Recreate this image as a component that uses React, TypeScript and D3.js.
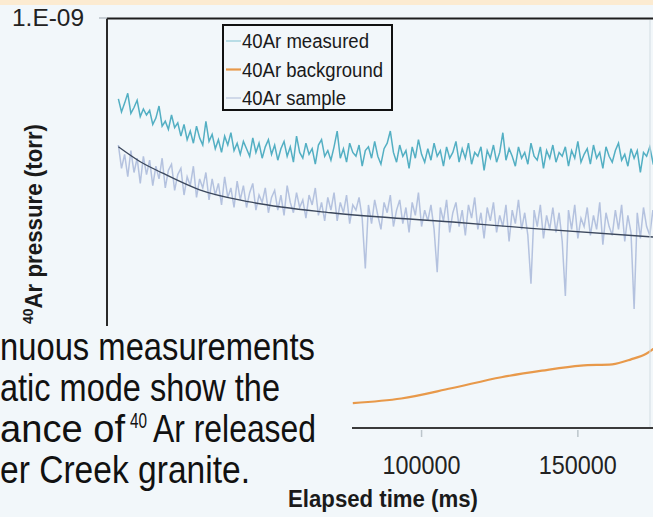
import React from "react";
import * as d3 from "d3";

const W = 653;
const H = 517;

// sampling of the two noisy traces (ms)
const traceStart = 3000;
const traceStep = 1000;
const unit = 1e-10; // values below are in 1e-10 torr

// 40Ar measured
const measured = [
  6.35, 5.9, 6.2, 6.55, 5.85, 6.05, 6.3, 5.75, 6.0, 5.8,
  5.95, 5.5, 5.7, 6.1, 5.45, 5.6, 5.35, 5.8, 5.4, 5.55,
  5.15, 5.5, 5.05, 5.3, 4.95, 5.45, 5.1, 4.9, 5.6, 5.0,
  5.2, 4.8, 5.05, 4.7, 5.15, 4.9, 5.25, 4.75, 4.95, 4.65,
  5.0, 4.8, 4.6, 5.1, 4.7, 4.95, 4.55, 4.85, 5.05, 4.65,
  4.9, 4.5, 4.8, 5.0, 4.6, 4.85, 4.45, 5.15, 4.7, 4.55,
  4.95, 4.65, 4.8, 4.4, 4.9, 5.05, 4.6, 4.75, 4.5, 4.85,
  5.3, 4.55, 4.8, 4.45, 4.95, 4.7, 4.6, 4.9, 4.35, 4.75,
  4.85, 4.55, 5.0, 4.6, 4.4, 4.8, 4.95, 5.3, 4.7, 4.45,
  4.9, 4.6, 4.75, 4.3, 4.85, 4.55, 5.05, 4.65, 4.45, 4.8,
  4.5, 4.95, 4.6, 4.75, 4.35, 4.85, 4.55, 4.7, 5.0, 4.45,
  4.8, 4.55, 4.95, 4.4, 4.7, 4.6, 4.85, 4.25, 4.75, 4.55,
  4.9, 4.45, 4.7, 5.25, 4.5, 4.8, 4.6, 4.35, 4.85, 4.55,
  4.7, 4.4, 4.95, 4.6, 4.5, 4.85, 4.3, 4.75, 4.55, 4.9,
  4.45, 4.7, 4.6, 4.85, 4.35, 4.75, 4.55, 5.0, 4.45, 4.65,
  4.8, 4.4, 4.9, 4.55, 4.7, 4.3, 4.85, 4.6, 4.45, 4.75,
  4.95, 4.5, 4.65, 4.35, 4.8, 4.55, 4.75, 4.2, 4.7, 4.6,
  4.85, 4.45, 4.7, 4.55,
];

// 40Ar sample
const sample = [
  4.9, 4.3, 4.65, 4.1, 4.75, 4.2, 4.55, 3.95, 4.6, 4.15,
  4.5, 3.9, 4.35, 4.05, 4.55, 3.85, 4.25, 4.4, 3.8, 4.15,
  4.3, 3.7, 4.1, 3.9, 4.35, 3.65, 4.05, 3.85, 4.2, 3.6,
  4.05, 3.7, 3.95, 3.5, 4.1, 3.65, 3.85, 3.45, 4.0, 3.6,
  3.9, 3.45, 3.75, 3.95, 3.4, 3.7, 3.55, 3.85, 3.35, 3.65,
  3.8, 3.4, 3.7, 3.3, 3.9, 3.55, 3.35, 3.75, 3.45, 3.6,
  3.25, 3.7, 3.5, 3.85, 3.3, 3.55, 3.2, 3.65, 3.4, 3.75,
  3.2, 3.55, 3.35, 3.7, 3.15, 3.5, 3.4, 3.65, 3.25, 2.45,
  3.5, 3.15, 3.6, 3.3, 3.05, 3.55, 3.35, 3.7, 3.1, 3.4,
  3.6, 3.15, 3.45, 3.0, 3.55, 3.3, 3.75, 3.1, 3.4, 3.2,
  3.5, 3.05, 2.4, 3.45, 3.2, 3.6, 3.0, 3.35, 3.55, 3.1,
  3.4, 2.95, 3.5, 3.25, 3.65, 3.05, 3.35, 2.9, 3.45, 3.2,
  3.55, 3.0, 3.3, 3.1, 3.5, 2.85, 3.4, 3.15, 3.6, 3.05,
  3.35, 2.95, 2.25, 3.4, 3.1, 3.5, 2.9, 3.3, 3.05, 3.45,
  3.0, 3.35, 2.85, 2.1, 3.4, 3.05, 3.5, 2.9, 3.25, 3.1,
  3.45, 2.95, 3.3, 3.05, 3.55, 2.8, 3.35, 3.1, 2.95, 3.4,
  3.05, 3.5, 2.85, 3.3, 3.0, 1.95, 3.35, 2.9, 3.45, 3.1,
  2.95, 3.4, 3.0, 3.25,
];

// smooth fit through the sample trace
const fitTimes = [3000, 10000, 17000, 29000, 45000, 71000, 110000, 135000, 175000];
const fitValues = [4.85, 4.46, 4.19, 3.81, 3.56, 3.35, 3.18, 3.07, 2.92];

// 40Ar background
const bgTimes = [78000, 93500, 109500, 125500, 138500, 151000, 161000, 167000, 172000, 176000];
const bgValues = [1.15, 1.18, 1.25, 1.33, 1.38, 1.42, 1.43, 1.47, 1.52, 1.6];

const xTicks = [100000, 150000];
const yTicks = [1e-9];
const yTickLabels = ["1.E-09"];

const legendLabels = ["40Ar measured", "40Ar background", "40Ar sample"];
const legendColors = ["#93cbd8", "#e8994a", "#b9c5de"];

const bg = "#f2f7fa";
const narrow = "'Liberation Sans Narrow', 'Arial Narrow', 'Liberation Sans', Arial, sans-serif";

export default function App() {
  const x = d3.scaleLinear().domain([0, 175000]).range([109, 656]);
  const y = d3.scaleLog().domain([1e-10, 1e-9]).range([428, 18]);

  const trace = d3
    .line<number>()
    .x((_, i) => x(traceStart + i * traceStep))
    .y((d) => y(d * unit));

  const fitLine = d3
    .line<number>()
    .x((_, i) => x(fitTimes[i]))
    .y((d) => y(d * unit))
    .curve(d3.curveMonotoneX);

  const bgLine = d3
    .line<number>()
    .x((_, i) => x(bgTimes[i]))
    .y((d) => y(d * unit))
    .curve(d3.curveMonotoneX);

  const cap = { fontFamily: narrow, fontSize: 39, fill: "#111", lengthAdjust: "spacingAndGlyphs" as const };

  return (
    <svg width={W} height={H} style={{ position: "fixed", left: 0, top: 0, background: bg }}>
      <rect x={0} y={0} width={W} height={5} fill="#fcebd1" />
      <defs>
        <clipPath id="plot">
          <rect x={108} y={18} width={W - 108} height={410} />
        </clipPath>
      </defs>

      <g clipPath="url(#plot)">
        <path d={trace(sample) || ""} fill="none" stroke="#a9b8d9" strokeWidth={1.5} opacity={0.85} />
        <path d={trace(measured) || ""} fill="none" stroke="#4aabc0" strokeWidth={1.5} opacity={0.95} />
        <path d={fitLine(fitValues) || ""} fill="none" stroke="#3b475c" strokeWidth={1.3} />
        <path d={bgLine(bgValues) || ""} fill="none" stroke="#e8994a" strokeWidth={2.2} />
      </g>

      {/* frame */}
      <line x1={107} x2={W} y1={18.5} y2={18.5} stroke="#1e1e1e" strokeWidth={2} />
      <line x1={107} x2={107} y1={18} y2={428} stroke="#2a2a2a" strokeWidth={2} />
      <line x1={650} x2={650} y1={20} y2={428} stroke="#d3dde3" strokeWidth={1} />
      <line x1={107} x2={W} y1={428} y2={428} stroke="#3a3a3a" strokeWidth={2} />

      {yTicks.map((t, i) => (
        <g key={t}>
          <line x1={99} x2={107} y1={y(t)} y2={y(t)} stroke="#b8c1c7" strokeWidth={1.5} />
          <text x={84} y={y(t) + 8} textAnchor="end" fontFamily={narrow} fontSize={24} fill="#222" textLength={72} lengthAdjust="spacingAndGlyphs">
            {yTickLabels[i]}
          </text>
        </g>
      ))}

      {xTicks.map((t) => (
        <g key={t}>
          <line x1={x(t)} x2={x(t)} y1={430} y2={437} stroke="#bcc5cb" strokeWidth={1.5} />
          <text x={x(t)} y={474} textAnchor="middle" fontFamily={narrow} fontSize={25} fill="#222" textLength={78} lengthAdjust="spacingAndGlyphs">
            {d3.format("d")(t)}
          </text>
        </g>
      ))}

      {/* legend */}
      <rect x={223} y={25} width={169} height={85} fill={bg} stroke="#111" strokeWidth={2} />
      {legendLabels.map((l, i) => (
        <g key={l}>
          <line x1={226} x2={241} y1={41 + i * 28.5} y2={41 + i * 28.5} stroke={legendColors[i]} strokeWidth={i === 1 ? 2.2 : 1.2} />
          <text x={242} y={48 + i * 28.5} fontFamily={narrow} fontSize={20} fill="#1a1a1a" textLength={i === 1 ? 141 : i === 0 ? 127 : 104} lengthAdjust="spacingAndGlyphs">
            {l}
          </text>
        </g>
      ))}

      {/* poster text box laid over the chart */}
      <rect x={0} y={326} width={352} height={H - 326} fill={bg} />
      <text x={0} y={360} textLength={315} {...cap}>nuous measurements</text>
      <text x={0} y={401} textLength={280} {...cap}>atic mode show the</text>
      <text x={0} y={442} textLength={125} {...cap}>ance of</text>
      <text x={130} y={428} textLength={17} {...cap} fontSize={22}>40</text>
      <text x={153} y={442} textLength={163} {...cap}>Ar released</text>
      <text x={0} y={483} textLength={250} {...cap}>er Creek granite.</text>

      {/* axis titles */}
      <text transform="translate(42,224) rotate(-90)" textAnchor="middle" fontFamily={narrow} fontWeight="bold" fontSize={24} fill="#1a1a1a" textLength={200} lengthAdjust="spacingAndGlyphs">
        <tspan fontSize={15} dy={-9}>40</tspan>
        <tspan dy={9}>Ar pressure (torr)</tspan>
      </text>
      <text x={383} y={507} textAnchor="middle" fontFamily={narrow} fontWeight="bold" fontSize={23} fill="#1a1a1a" textLength={190} lengthAdjust="spacingAndGlyphs">
        Elapsed time (ms)
      </text>
    </svg>
  );
}
